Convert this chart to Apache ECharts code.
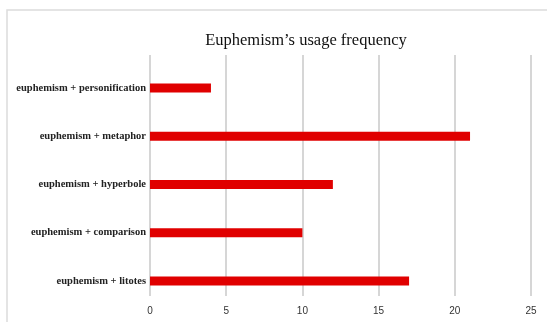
<!DOCTYPE html>
<html>
<head>
<meta charset="utf-8">
<script src="https://cdn.jsdelivr.net/npm/echarts@6/dist/echarts.min.js"></script>
<style>
  html, body { margin: 0; padding: 0; background: #fff; }
  #chart { width: 547px; height: 322px; }
</style>
</head>
<body>
<div id="chart"></div>
<script>
// top to bottom as in the picture
const categories = [
  'euphemism + personification',
  'euphemism + metaphor',
  'euphemism + hyperbole',
  'euphemism + comparison',
  'euphemism + litotes'
]
const frequency = [4, 21, 12, 10, 17]
const xTicks = [0, 5, 10, 15, 20, 25]

const chart = echarts.init(document.getElementById('chart'))

chart.setOption({
  backgroundColor: '#fff',
  animation: false,
  title: {
    text: 'Euphemism\u2019s usage frequency',
    left: 301,
    top: 27,
    textAlign: 'center',
    textStyle: {
      fontFamily: 'Liberation Serif',
      fontSize: 16.5,
      fontWeight: 'normal',
      color: '#111'
    }
  },
  graphic: [{
    type: 'rect',
    shape: { x: 7, y: 10, width: 560, height: 330 },
    style: { fill: 'none', stroke: '#dcdcdc', lineWidth: 1.5 },
    silent: true
  }],
  grid: [
    // gridlines + tick labels
    { left: 150, right: 16, top: 55, height: 241 },
    // bars
    { left: 150, right: 16, top: 64, height: 241 }
  ],
  xAxis: [
    {
      gridIndex: 0,
      type: 'value',
      min: 0,
      max: 25,
      interval: 5,
      axisLine: { show: false },
      axisTick: { show: false },
      splitLine: { show: true, lineStyle: { color: '#c8c8c8', width: 1.5 } },
      axisLabel: {
        margin: 10,
        fontFamily: 'Liberation Sans',
        fontSize: 10,
        color: '#333',
        formatter: (v) => xTicks.includes(v) ? String(v) : ''
      }
    },
    {
      gridIndex: 1,
      type: 'value',
      min: 0,
      max: 25,
      show: false
    }
  ],
  yAxis: [
    {
      gridIndex: 0,
      type: 'category',
      data: categories,
      show: false
    },
    {
      gridIndex: 1,
      type: 'category',
      data: categories,
      inverse: true,
      axisLine: { show: false },
      axisTick: { show: false },
      axisLabel: {
        margin: 4,
        fontFamily: 'Liberation Serif',
        fontSize: 10.5,
        fontWeight: 'bold',
        color: '#222'
      }
    }
  ],
  series: [{
    type: 'bar',
    xAxisIndex: 1,
    yAxisIndex: 1,
    data: frequency,
    barWidth: 9,
    itemStyle: { color: '#e00000' }
  }]
})
</script>
</body>
</html>
